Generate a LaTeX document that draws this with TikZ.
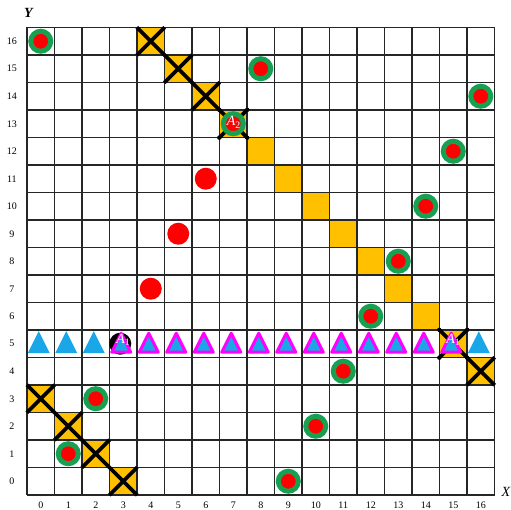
\documentclass[tikz,border=0pt]{standalone}
\usepackage{fontspec}
\setmainfont{Liberation Serif}
\definecolor{myorange}{HTML}{FFC000}
\definecolor{mygreen}{HTML}{17A052}
\definecolor{myred}{HTML}{FF0000}
\definecolor{mycyan}{HTML}{1AA7E8}
\definecolor{mymag}{HTML}{FF00FF}
\tikzset{
  gridline/.style={line width=1.1pt, black!85},
  sq/.style={rectangle, fill=myorange, minimum size=27.5pt, inner sep=0pt, draw=none},
  xline/.style={line width=3.8pt, black},
  ring/.style={circle, fill=myred, draw=mygreen, line width=5pt, minimum size=20pt, inner sep=0pt},
  reddot/.style={circle, fill=myred, minimum size=22pt, inner sep=0pt},
  blackdot/.style={circle, fill=black, minimum size=22pt, inner sep=0pt},
  alabel/.style={text=white, font=\fontsize{14}{14}\selectfont, inner sep=0pt},
  num/.style={font=\fontsize{10}{10}\selectfont, inner sep=0pt},
  axlab/.style={font=\fontsize{14}{14}\selectfont, inner sep=0pt},
  plaintri/.pic={\fill[mycyan] (0pt,12.5pt) -- (-11pt,-9.5pt) -- (11pt,-9.5pt) -- cycle;},
  magtri/.pic={\filldraw[fill=mycyan, draw=mymag, line width=3pt, line join=round] (0pt,10.5pt) -- (-9.5pt,-8.5pt) -- (9.5pt,-8.5pt) -- cycle;}
}
\begin{document}
\begin{tikzpicture}[x=1pt,y=1pt]
\useasboundingbox (0,0) rectangle (511,510);
\begin{scope}[shift={(27pt,15pt)}, x=27.5pt, y=27.5pt]
  % orange squares
  \foreach \c/\r in {4/16,5/15,6/14,7/13,0/3,1/2,2/1,3/0,15/5,16/4,8/12,9/11,10/10,11/9,12/8,13/7,14/6}
    \node[sq] (o-\c-\r) at (\c+.5,\r+.5) {};
  % grid
  \draw[gridline, step=1] (0,0) grid (17,17);
  % crosses
  \foreach \c/\r in {4/16,5/15,6/14,7/13,0/3,1/2,2/1,3/0,15/5,16/4} {
    \draw[xline] (o-\c-\r.north west) -- (o-\c-\r.south east);
    \draw[xline] (o-\c-\r.north east) -- (o-\c-\r.south west);
  }
  \foreach \c/\r in {7/13,15/5}
    \foreach \a in {north west,north east,south west,south east}
      \fill[black] (o-\c-\r.\a) circle (2.2pt);
  % ring dots
  \foreach \c/\r in {0/16,8/15,16/14,15/12,14/10,13/8,12/6,11/4,10/2,9/0,2/3,1/1,7/13}
    \node[ring] (g-\c-\r) at (\c+.5,\r+.5) {};
  % plain red dots
  \foreach \c/\r in {6/11,5/9,4/7}
    \node[reddot] (r-\c-\r) at (\c+.5,\r+.5) {};
  % black dot behind A1
  \node[blackdot] (b-3-5) at ([xshift=-3pt]3.5,5.5) {};
  % triangles
  \foreach \c in {0,...,16}
    \coordinate (t-\c) at ([xshift=-2pt]\c+.5,5.5);
  \foreach \c in {0,1,2,16}
    \pic at (t-\c) {plaintri};
  \foreach \c in {3,...,15}
    \pic at (t-\c) {magtri};
  % A labels
  \node[alabel] (a2) at ([xshift=0.5pt]7.5,13.55) {\textit{A}\textsubscript{2}};
  \node[alabel] (a1) at ([xshift=0pt]3.5,5.65) {\textit{A}\textsubscript{1}};
  \node[alabel] (a1b) at ([xshift=0pt]15.5,5.65) {\textit{A}\textsubscript{1}};
  % axis numbers
  \foreach \r in {0,...,16}
    \node[num] (ry-\r) at (-0.55,\r+.5) {\r};
  \foreach \c in {0,...,16}
    \node[num] (cx-\c) at (\c+.5,-0.37) {\c};
  \node[axlab] (ylab) at (0.07,17.52) {\textbf{\textit{Y}}};
  \node[axlab] (xlab) at (17.42,0.12) {\textit{X}};
\end{scope}
\end{tikzpicture}
\end{document}
